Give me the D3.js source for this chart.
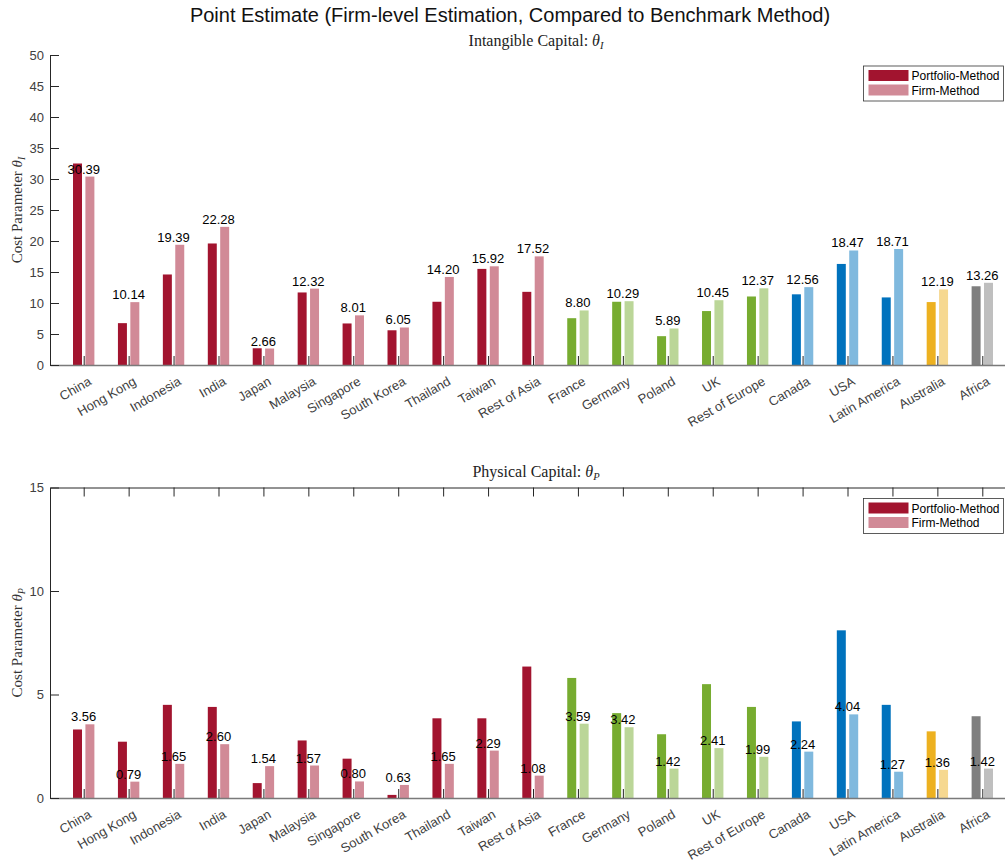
<!DOCTYPE html>
<html>
<head>
<meta charset="utf-8">
<script src="https://cdn.jsdelivr.net/npm/d3@7"></script>
<style>
  html, body { margin: 0; padding: 0; background: #fff; }
  svg { display: block; }
  .sans { font-family: "Liberation Sans", Arial, Helvetica, sans-serif; }
  .serif { font-family: "Liberation Serif", "DejaVu Serif", "Times New Roman", serif; }
</style>
</head>
<body>
<svg id="chart" width="1005" height="863"></svg>
<script>
// Regions, in the order they are plotted
const categories = ["China", "Hong Kong", "Indonesia", "India", "Japan", "Malaysia",
  "Singapore", "South Korea", "Thailand", "Taiwan", "Rest of Asia", "France", "Germany",
  "Poland", "UK", "Rest of Europe", "Canada", "USA", "Latin America", "Australia", "Africa"];

// Continent group of each region (drives the colour family)
const regionGroup = ["asia", "asia", "asia", "asia", "asia", "asia", "asia", "asia", "asia",
  "asia", "asia", "europe", "europe", "europe", "europe", "europe", "americas", "americas",
  "americas", "oceania", "africa"];

// Intangible capital cost parameter theta_I
const intangiblePortfolio = [32.5, 6.75, 14.6, 19.6, 2.7, 11.7, 6.7, 5.6, 10.2, 15.5, 11.8,
  7.55, 10.2, 4.65, 8.7, 11.05, 11.4, 16.3, 10.9, 10.15, 12.7];
const intangibleFirm = [30.39, 10.14, 19.39, 22.28, 2.66, 12.32, 8.01, 6.05, 14.20, 15.92,
  17.52, 8.80, 10.29, 5.89, 10.45, 12.37, 12.56, 18.47, 18.71, 12.19, 13.26];

// Physical capital cost parameter theta_P
const physicalPortfolio = [3.31, 2.72, 4.5, 4.4, 0.72, 2.78, 1.9, 0.15, 3.85, 3.85, 6.35,
  5.8, 4.1, 3.08, 5.5, 4.4, 3.7, 8.1, 4.5, 3.22, 3.95];
const physicalFirm = [3.56, 0.79, 1.65, 2.60, 1.54, 1.57, 0.80, 0.63, 1.65, 2.29, 1.08,
  3.59, 3.42, 1.42, 2.41, 1.99, 2.24, 4.04, 1.27, 1.36, 1.42];

const intangibleTicks = d3.range(0, 51, 5);
const physicalTicks = [0, 5, 10, 15];
const seriesNames = ["Portfolio-Method", "Firm-Method"];

// Colours per continent: the portfolio bar uses the base colour, the firm bar a lighter tint
const baseColor = { asia: "#A2142F", europe: "#77AC30", americas: "#0072BD", oceania: "#EDB120", africa: "#7F7F7F" };
const tint = c => d3.interpolateRgb(c, "#ffffff")(0.5);

const svg = d3.select("#chart");
const axisColor = "#262626";
const labelColor = "#404040";

// shared horizontal scale in category units (1..21)
const x = d3.scaleLinear().domain([0.25, 21.75]).range([50, 1016]);
const barW = 0.2, barOff = 0.138;

svg.append("text").attr("class", "sans")
  .attr("x", 510).attr("y", 22).attr("text-anchor", "middle")
  .attr("font-size", 20).attr("fill", "#111")
  .text("Point Estimate (Firm-level Estimation, Compared to Benchmark Method)");

function panel(opts) {
  const y = d3.scaleLinear().domain(opts.domain).range(opts.range);
  const g = svg.append("g");
  const data = categories.map((c, i) => ({ i: i + 1, name: c, grp: regionGroup[i],
    p: opts.portfolio[i], f: opts.firm[i] }));

  // bars
  g.selectAll("rect.port").data(data).join("rect").attr("class", "port")
    .attr("x", d => x(d.i - barOff - barW / 2)).attr("width", x(barW) - x(0))
    .attr("y", d => y(d.p)).attr("height", d => y(0) - y(d.p))
    .attr("fill", d => baseColor[d.grp]);
  g.selectAll("rect.firm").data(data).join("rect").attr("class", "firm")
    .attr("x", d => x(d.i + barOff - barW / 2)).attr("width", x(barW) - x(0))
    .attr("y", d => y(d.f)).attr("height", d => y(0) - y(d.f))
    .attr("fill", d => tint(baseColor[d.grp]));

  // x axis along the baseline, ticks pointing inward
  const xa = g.append("g").attr("transform", `translate(0,${y(0)})`)
    .call(d3.axisBottom(x).tickValues(d3.range(1, 22)).tickSize(-9).tickSizeOuter(0)
      .tickFormat(i => categories[i - 1]));
  xa.select(".domain").attr("stroke", "#7a7a7a").attr("stroke-width", 1.6);
  xa.selectAll(".tick line").attr("stroke", axisColor);
  xa.selectAll(".tick text").attr("class", "sans").attr("font-size", 13).attr("fill", labelColor)
    .attr("text-anchor", "end").attr("dy", null).attr("y", null)
    .attr("transform", "translate(8,19) rotate(-30)");

  // optional top border with inward ticks
  if (opts.topBorder) {
    const ta = g.append("g").attr("transform", `translate(0,${y(opts.domain[1])})`)
      .call(d3.axisTop(x).tickValues(d3.range(1, 22)).tickSize(-9).tickSizeOuter(0).tickFormat(""));
    ta.select(".domain").attr("stroke", axisColor);
    ta.selectAll(".tick line").attr("stroke", axisColor);
  }

  // y axis
  const ya = g.append("g").attr("transform", `translate(${x(0.25)},0)`)
    .call(d3.axisLeft(y).tickValues(opts.ticks).tickSize(-9).tickSizeOuter(0).tickPadding(6));
  ya.select(".domain").attr("stroke", axisColor);
  ya.selectAll(".tick line").attr("stroke", axisColor);
  ya.selectAll(".tick text").attr("class", "sans").attr("font-size", 13).attr("fill", labelColor);

  // value labels for the firm-method estimate
  g.selectAll("text.val").data(data).join("text").attr("class", "val sans")
    .attr("x", d => x(d.i)).attr("y", d => y(d.f) - 3)
    .attr("text-anchor", "middle").attr("font-size", 13).attr("fill", "#000")
    .text(d => d.f.toFixed(2));

  // panel title
  const t = g.append("text").attr("class", "serif").attr("x", (x(0.25) + x(21.75)) / 2 + 3)
    .attr("y", opts.titleY).attr("text-anchor", "middle").attr("font-size", 16).attr("fill", "#222");
  t.append("tspan").text(opts.title + " ");
  t.append("tspan").attr("font-style", "italic").text("θ");
  t.append("tspan").attr("font-style", "italic").attr("font-size", 10.5).attr("dy", 3).text(opts.sub);

  // y label
  const yl = g.append("text").attr("class", "serif").attr("text-anchor", "middle")
    .attr("transform", `translate(22,${(opts.range[0] + opts.range[1]) / 2}) rotate(-90)`)
    .attr("font-size", 15).attr("fill", "#333");
  yl.append("tspan").text("Cost Parameter ");
  yl.append("tspan").attr("font-style", "italic").text("θ");
  yl.append("tspan").attr("font-style", "italic").attr("font-size", 10).attr("dy", 3).text(opts.sub);

  // legend
  const lg = g.append("g").attr("transform", `translate(863.5,${opts.legendY})`);
  lg.append("rect").attr("width", 140).attr("height", 35).attr("fill", "#fff")
    .attr("stroke", "#333").attr("stroke-width", 0.8);
  [baseColor.asia, tint(baseColor.asia)].forEach((c, k) => {
    lg.append("rect").attr("x", 5).attr("y", 4 + k * 14.5).attr("width", 40).attr("height", 11).attr("fill", c);
    lg.append("text").attr("class", "sans").attr("x", 48).attr("y", 14 + k * 14.5)
      .attr("font-size", 12).attr("fill", "#000").text(seriesNames[k]);
  });
}

panel({ domain: [0, 50], range: [365, 55], ticks: intangibleTicks,
  portfolio: intangiblePortfolio, firm: intangibleFirm,
  title: "Intangible Capital:", sub: "I", titleY: 46, legendY: 66, topBorder: false });

panel({ domain: [0, 15], range: [798, 487.5], ticks: physicalTicks,
  portfolio: physicalPortfolio, firm: physicalFirm,
  title: "Physical Capital:", sub: "P", titleY: 477, legendY: 498.5, topBorder: true });
</script>
</body>
</html>
